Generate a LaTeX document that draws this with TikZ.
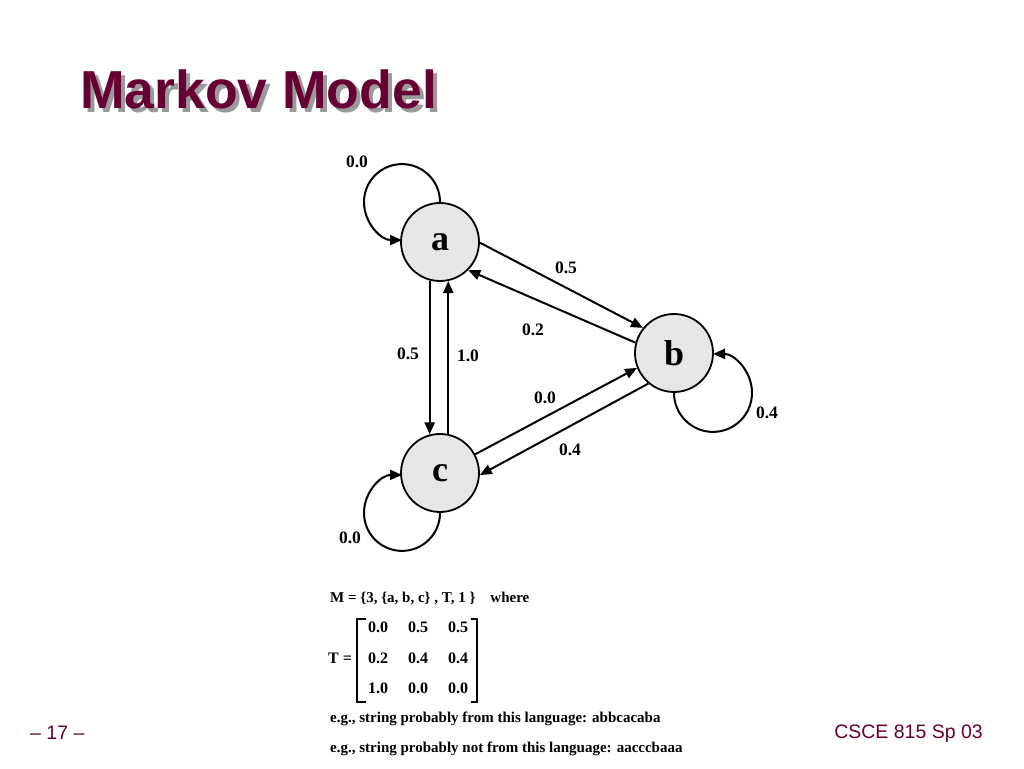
\documentclass[tikz,border=0pt]{standalone}
\usepackage{fontspec}
\setmainfont{Liberation Serif}
\newfontfamily\sansf{Liberation Sans}
\usetikzlibrary{arrows.meta}
\definecolor{maroon}{HTML}{660033}
\definecolor{shadowgray}{HTML}{9A9A9A}
\definecolor{nodefill}{HTML}{E6E6E6}
\tikzset{
  x=1pt, y=1pt,
  state/.style={circle, draw=black, line width=1.8pt, fill=nodefill, minimum size=78pt, inner sep=0pt, font=\fontsize{36}{36}\selectfont\bfseries},
  arr/.style={line width=2pt, -{Triangle[length=12pt,width=10pt]}},
  lbl/.style={font=\fontsize{17.5}{17.5}\selectfont\bfseries, inner sep=0pt},
  txt/.style={font=\fontsize{15}{15}\selectfont\bfseries, inner sep=0pt},
  mtx/.style={font=\fontsize{16}{16}\selectfont\bfseries, inner sep=0pt},
  title/.style={font=\sansf\fontsize{53.5}{53.5}\selectfont\bfseries, inner sep=0pt, anchor=base west},
  foot/.style={font=\sansf\fontsize{19.5}{19.5}\selectfont, text=maroon, inner sep=0pt},
  brk/.style={line width=1.4pt}
}
\begin{document}
\begin{tikzpicture}
\useasboundingbox (0,0) rectangle (1024,768);
% title
\node[title, text=shadowgray] (tshadow) at (84,655) {Markov Model};
\node[title, text=maroon] (title) at (80,659) {Markov Model};
% states
\node[state] (a) at (440,526) {a};
\node[state] (b) at (674,415) {b};
\node[state] (c) at (440,295) {c};
% self loops
\draw[arr] (a.north) arc[start angle=0, end angle=270, radius=38];
\draw[arr] (b.south) arc[start angle=180, end angle=450, radius=39];
\draw[arr] (c.south) arc[start angle=0, end angle=-270, radius=38];
% edges
\draw[arr] (a.-1.5) -- (b.141);
\draw[arr] (b.165) -- (a.-45);
\draw[arr] (a.-105) -- (c.105);
\draw[arr] (c.78) -- (a.-78);
\draw[arr] (c.28) -- (b.202);
\draw[arr] (b.230) -- (c.-3);
% labels
\node[lbl] (lab) at (566,500) {0.5};
\node[lbl] (lba) at (533,438) {0.2};
\node[lbl] (lac) at (408,414) {0.5};
\node[lbl] (lca) at (468,412) {1.0};
\node[lbl] (lcb) at (545,370) {0.0};
\node[lbl] (lbc) at (570,318) {0.4};
\node[lbl] (laa) at (357,606) {0.0};
\node[lbl] (lbb) at (767,355) {0.4};
\node[lbl] (lcc) at (350,230) {0.0};
% definition text
\node[txt, anchor=west] (mdef) at (330,170) {M = \{3, \{a, b, c\} , T, 1 \}\quad where};
\node[mtx] (tlbl) at (340,110) {T =};
\node[mtx] (m11) at (378,141) {0.0};
\node[mtx] (m12) at (418,141) {0.5};
\node[mtx] (m13) at (458,141) {0.5};
\node[mtx] (m21) at (378,110) {0.2};
\node[mtx] (m22) at (418,110) {0.4};
\node[mtx] (m23) at (458,110) {0.4};
\node[mtx] (m31) at (378,80) {1.0};
\node[mtx] (m32) at (418,80) {0.0};
\node[mtx] (m33) at (458,80) {0.0};
\draw[brk] (366,149) -- (357,149) -- (357,66) -- (366,66);
\draw[brk] (471,149) -- (477,149) -- (477,66) -- (471,66);
\node[txt, anchor=west] (ex1) at (330,49) {e.g., string probably from this language: abbcacaba};
\node[txt, anchor=west] (ex2) at (330,19) {e.g., string probably not from this language: aacccbaaa};
% footer
\node[foot, anchor=base west] (pnum) at (30,29) {– 17 –};
\node[foot, anchor=base east] (course) at (983,30) {CSCE 815 Sp 03};
\end{tikzpicture}
\end{document}
